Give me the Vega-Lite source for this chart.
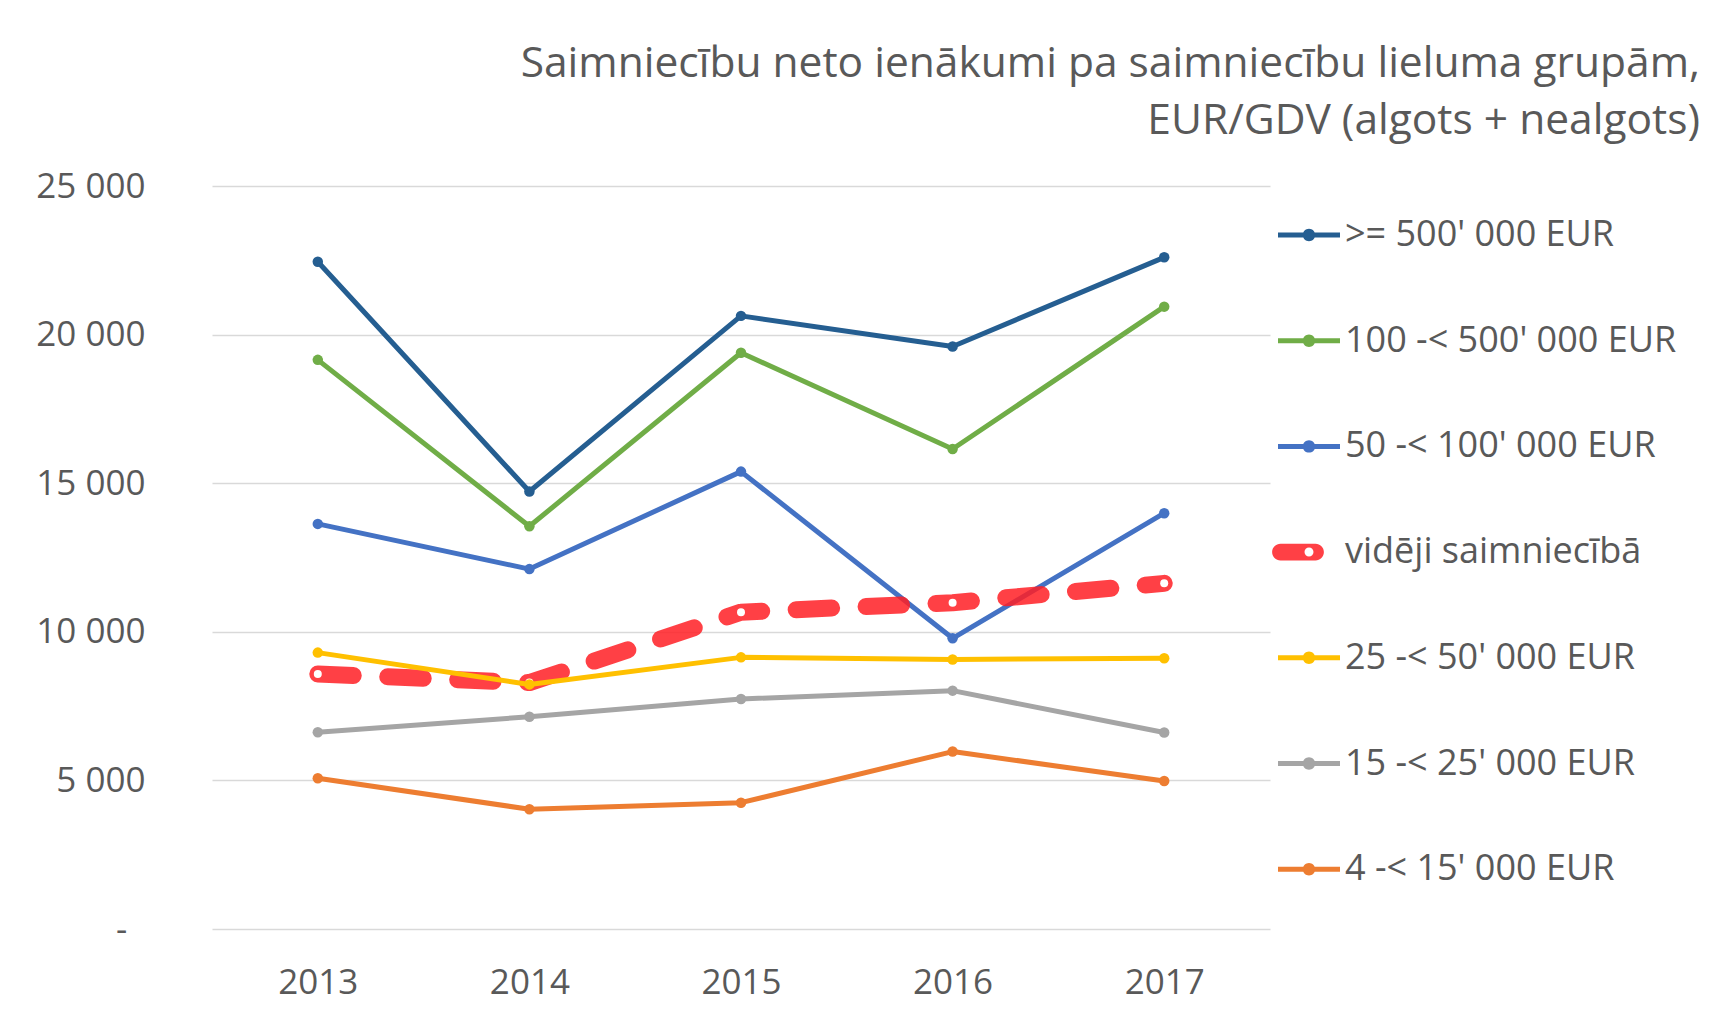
{
  "$schema": "https://vega.github.io/schema/vega-lite/v6.json",
  "width": 1058,
  "height": 743,
  "autosize": {"type": "none"},
  "padding": {"left": 212, "top": 186, "right": 451, "bottom": 84},
  "background": "white",
  "config": {
    "view": {"stroke": null},
    "font": "Open Sans"
  },
  "title": {
    "text": ["Saimniecību neto ienākumi pa saimniecību lieluma grupām,", "EUR/GDV (algots + nealgots)"],
    "anchor": "end",
    "frame": "group",
    "orient": "top",
    "font": "Open Sans",
    "fontSize": 42.5,
    "fontWeight": "normal",
    "color": "#595959",
    "lineHeight": 57,
    "baseline": "alphabetic",
    "offset": 56,
    "dx": 430,
    "dy": 63
  },
  "data": {
    "values": [
      {"year": "2013", "group": ">= 500' 000 EUR", "value": 22450},
      {"year": "2014", "group": ">= 500' 000 EUR", "value": 14720},
      {"year": "2015", "group": ">= 500' 000 EUR", "value": 20630},
      {"year": "2016", "group": ">= 500' 000 EUR", "value": 19600},
      {"year": "2017", "group": ">= 500' 000 EUR", "value": 22600},
      {"year": "2013", "group": "100 -< 500' 000 EUR", "value": 19150},
      {"year": "2014", "group": "100 -< 500' 000 EUR", "value": 13550},
      {"year": "2015", "group": "100 -< 500' 000 EUR", "value": 19390},
      {"year": "2016", "group": "100 -< 500' 000 EUR", "value": 16150},
      {"year": "2017", "group": "100 -< 500' 000 EUR", "value": 20940},
      {"year": "2013", "group": "50 -< 100' 000 EUR", "value": 13630},
      {"year": "2014", "group": "50 -< 100' 000 EUR", "value": 12110},
      {"year": "2015", "group": "50 -< 100' 000 EUR", "value": 15390},
      {"year": "2016", "group": "50 -< 100' 000 EUR", "value": 9780},
      {"year": "2017", "group": "50 -< 100' 000 EUR", "value": 13990},
      {"year": "2013", "group": "vidēji saimniecībā", "value": 8580},
      {"year": "2014", "group": "vidēji saimniecībā", "value": 8290},
      {"year": "2015", "group": "vidēji saimniecībā", "value": 10660},
      {"year": "2016", "group": "vidēji saimniecībā", "value": 10980},
      {"year": "2017", "group": "vidēji saimniecībā", "value": 11630},
      {"year": "2013", "group": "25 -< 50' 000 EUR", "value": 9300},
      {"year": "2014", "group": "25 -< 50' 000 EUR", "value": 8230},
      {"year": "2015", "group": "25 -< 50' 000 EUR", "value": 9140},
      {"year": "2016", "group": "25 -< 50' 000 EUR", "value": 9070},
      {"year": "2017", "group": "25 -< 50' 000 EUR", "value": 9110},
      {"year": "2013", "group": "15 -< 25' 000 EUR", "value": 6620},
      {"year": "2014", "group": "15 -< 25' 000 EUR", "value": 7140},
      {"year": "2015", "group": "15 -< 25' 000 EUR", "value": 7740},
      {"year": "2016", "group": "15 -< 25' 000 EUR", "value": 8020},
      {"year": "2017", "group": "15 -< 25' 000 EUR", "value": 6610},
      {"year": "2013", "group": "4 -< 15' 000 EUR", "value": 5070},
      {"year": "2014", "group": "4 -< 15' 000 EUR", "value": 4030},
      {"year": "2015", "group": "4 -< 15' 000 EUR", "value": 4250},
      {"year": "2016", "group": "4 -< 15' 000 EUR", "value": 5970},
      {"year": "2017", "group": "4 -< 15' 000 EUR", "value": 4980}
    ]
  },
  "encoding": {
    "x": {
      "field": "year",
      "type": "ordinal",
      "scale": {"type": "point", "padding": 0.5},
      "axis": {
        "title": null,
        "labelAngle": 0,
        "domain": false,
        "ticks": false,
        "tickSize": 0,
        "labelPadding": 36,
        "labelFont": "Open Sans",
        "labelFontSize": 35,
        "labelColor": "#595959",
        "grid": false
      }
    },
    "y": {
      "field": "value",
      "type": "quantitative",
      "scale": {"domain": [0, 25000], "nice": false, "zero": true},
      "axis": {
        "title": null,
        "values": [0, 5000, 10000, 15000, 20000, 25000],
        "domain": false,
        "ticks": false,
        "tickSize": 0,
        "labelPadding": 67,
        "labelFont": "Open Sans",
        "labelFontSize": 35,
        "labelColor": "#595959",
        "grid": true,
        "gridColor": "#D9D9D9",
        "gridWidth": 1.6,
        "labelExpr": "datum.value === 0 ? '-\u00a0\u00a0\u200b' : replace(format(datum.value, ',.0f'), ',', ' ')"
      }
    },
    "color": {
      "field": "group",
      "type": "nominal",
      "scale": {
        "domain": [">= 500' 000 EUR", "100 -< 500' 000 EUR", "50 -< 100' 000 EUR", "vidēji saimniecībā", "25 -< 50' 000 EUR", "15 -< 25' 000 EUR", "4 -< 15' 000 EUR"],
        "range": ["#255E91", "#70AD47", "#4472C4", "#FF1F24", "#FFC000", "#A5A5A5", "#ED7D31"]
      },
      "legend": {
        "orient": "none",
        "legendX": 1066,
        "legendY": 18,
        "title": null,
        "padding": 0,
        "symbolSize": 3844,
        "symbolStrokeWidth": 0,
        "labelFont": "Open Sans",
        "labelFontSize": 36,
        "labelColor": "#595959",
        "labelOffset": 5,
        "labelLimit": 600,
        "rowPadding": 56.7,
        "encode": {
          "symbols": {
            "update": {
              "shape": {"signal": "substring(datum.value, 0, 3) === 'vid' ? 'M-0.92,-0.27L0.21,-0.27A0.27,0.27 0 0 1 0.21,0.27L-0.92,0.27A0.27,0.27 0 0 1 -0.92,-0.27ZM0.145,0A0.145,0.145 0 1 0 -0.145,0A0.145,0.145 0 1 0 0.145,0Z' : 'M-1,-0.08L1,-0.08L1,0.08L-1,0.08ZM0.2,0A0.2,0.2 0 1 1 -0.2,0A0.2,0.2 0 1 1 0.2,0Z'"},
              "fill": {"signal": "scale('color', datum.value)"},
              "fillOpacity": {"signal": "substring(datum.value, 0, 3) === 'vid' ? 0.85 : 1"},
              "stroke": {"value": "transparent"},
              "strokeWidth": {"value": 0},
              "opacity": {"value": 1},
              "size": {"value": 3844}
            }
          }
        }
      }
    }
  },
  "layer": [
    {
      "transform": [{"filter": {"field": "group", "oneOf": [">= 500' 000 EUR", "100 -< 500' 000 EUR", "50 -< 100' 000 EUR"]}}],
      "mark": {"type": "line", "strokeWidth": 5, "strokeJoin": "round", "strokeCap": "round"}
    },
    {
      "transform": [{"filter": {"field": "group", "oneOf": [">= 500' 000 EUR", "100 -< 500' 000 EUR", "50 -< 100' 000 EUR"]}}],
      "mark": {"type": "point", "filled": true, "size": 110, "opacity": 1}
    },
    {
      "transform": [{"filter": {"field": "group", "equal": "vidēji saimniecībā"}}],
      "mark": {"type": "line", "strokeWidth": 17, "strokeDash": [35.5, 34.5], "strokeCap": "round", "strokeJoin": "round", "opacity": 0.85}
    },
    {
      "transform": [{"filter": {"field": "group", "equal": "vidēji saimniecībā"}}],
      "mark": {"type": "point", "filled": true, "size": 64, "opacity": 1},
      "encoding": {"color": {"value": "white"}}
    },
    {
      "transform": [{"filter": {"field": "group", "oneOf": ["25 -< 50' 000 EUR", "15 -< 25' 000 EUR", "4 -< 15' 000 EUR"]}}],
      "mark": {"type": "line", "strokeWidth": 5, "strokeJoin": "round", "strokeCap": "round"}
    },
    {
      "transform": [{"filter": {"field": "group", "oneOf": ["25 -< 50' 000 EUR", "15 -< 25' 000 EUR", "4 -< 15' 000 EUR"]}}],
      "mark": {"type": "point", "filled": true, "size": 110, "opacity": 1}
    }
  ]
}
